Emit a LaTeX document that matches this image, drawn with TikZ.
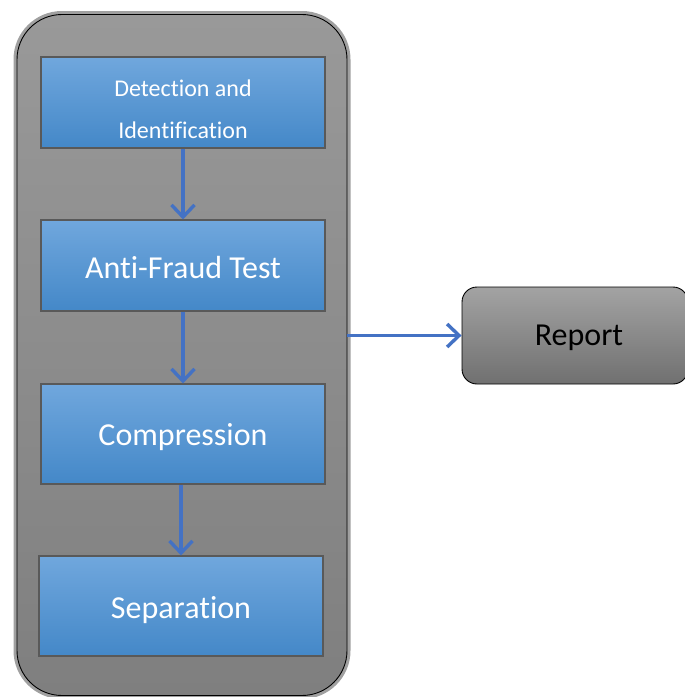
\documentclass[tikz,border=0pt]{standalone}
\usepackage{fontspec}
\setmainfont[Ligatures={NoCommon}]{Carlito}
\usetikzlibrary{arrows.meta}
\definecolor{btop}{HTML}{70A7DD}
\definecolor{bbot}{HTML}{4488C8}
\definecolor{arrowblue}{HTML}{4472C4}
\definecolor{ctop}{HTML}{999999}
\definecolor{cbot}{HTML}{7F7F7F}
\definecolor{rtop}{HTML}{A3A3A3}
\definecolor{rbot}{HTML}{707070}
\definecolor{halo}{HTML}{A0A0A0}
\begin{document}
\begin{tikzpicture}[x=1pt,y=-1pt,
  stepbox/.style={draw=black!65, line width=1.2pt, top color=btop, bottom color=bbot,
    minimum width=284pt, inner sep=0pt, text=white,
    font=\fontsize{32}{38}\selectfont, align=center},
  contbox/.style={preaction={draw=halo, line width=7pt}, draw=black, line width=0.9pt,
    rounded corners=45pt, top color=ctop, bottom color=cbot, inner sep=0pt},
  repbox/.style={draw=black, line width=0.9pt, rounded corners=15pt,
    top color=rtop, bottom color=rbot, inner sep=0pt, text=black,
    font=\fontsize{32}{38}\selectfont},
  lbl/.style={text=white, font=\fontsize{32}{38}\selectfont, inner sep=0pt},
  flow/.style={draw=arrowblue, line width=3.4pt,
    -{Straight Barb[length=12pt,width=23pt]}}]
\useasboundingbox (0,0) rectangle (685,697);
\node[contbox, minimum width=330pt, minimum height=681pt] (cont) at (182,355) {};
\node[stepbox, minimum height=91pt] (b1) at (183,102.5) {};
\node[lbl, font=\fontsize{24}{42}\selectfont, align=center] (t1) at (183,109)
  {Detection and\\Identification};
\node[stepbox, minimum height=91pt] (b2) at (183,265.5) {};
\node[lbl] (t2) at (183,268) {Anti-Fraud Test};
\node[stepbox, minimum height=100pt] (b3) at (183,434) {};
\node[lbl] (t3) at (183,437) {Compression};
\node[stepbox, minimum height=100pt] (b4) at (181,606) {};
\node[lbl] (t4) at (181,610) {Separation};
\node[repbox, minimum width=226pt, minimum height=97pt] (rep) at (575,335.5) {};
\node[lbl, text=black] (t5) at (579,338) {Report};
\draw[flow] (b1.south) -- (b2.north);
\draw[flow] (b2.south) -- (b3.north);
\draw[flow] (b3.south -| b4.north) -- (b4.north);
\draw[flow] (cont.east |- rep.west) -- (rep.west);
\end{tikzpicture}
\end{document}
